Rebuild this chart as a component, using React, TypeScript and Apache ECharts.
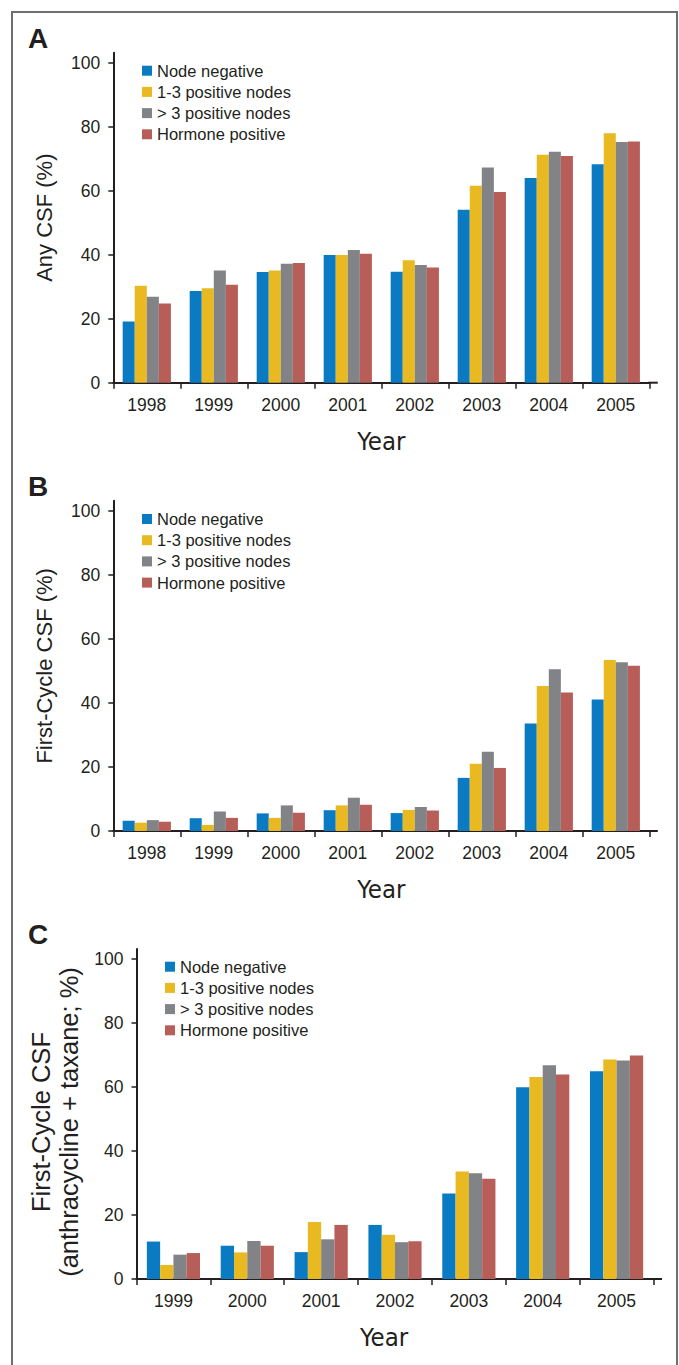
import React, { useEffect, useRef } from "react";
import * as echarts from "echarts";

const SERIES_NAMES = ["Node negative", "1-3 positive nodes", "> 3 positive nodes", "Hormone positive"];
const COLORS = ["#0a7bc2", "#e9b921", "#828387", "#b85e59"];

const YEARS_AB = ["1998", "1999", "2000", "2001", "2002", "2003", "2004", "2005"];
const YEARS_C = ["1999", "2000", "2001", "2002", "2003", "2004", "2005"];
const Y_TICKS = [0, 20, 40, 60, 80, 100];

// Panel A: Any CSF (%)
const A_NODE_NEG = [19.1, 28.7, 34.6, 39.9, 34.7, 54.1, 64.0, 68.3];
const A_POS_1_3 = [30.3, 29.5, 35.1, 39.9, 38.3, 61.6, 71.3, 78.0];
const A_POS_GT3 = [26.9, 35.1, 37.2, 41.5, 36.8, 67.3, 72.2, 75.3];
const A_HORMONE = [24.8, 30.6, 37.4, 40.3, 36.0, 59.6, 70.9, 75.4];

// Panel B: First-Cycle CSF (%)
const B_NODE_NEG = [3.2, 4.0, 5.5, 6.5, 5.6, 16.6, 33.6, 41.1];
const B_POS_1_3 = [2.6, 1.9, 4.1, 8.0, 6.6, 21.0, 45.3, 53.4];
const B_POS_GT3 = [3.4, 6.1, 8.0, 10.4, 7.5, 24.8, 50.5, 52.7];
const B_HORMONE = [2.9, 4.1, 5.7, 8.2, 6.4, 19.7, 43.3, 51.6];

// Panel C: First-Cycle CSF (anthracycline + taxane; %)
const C_NODE_NEG = [11.7, 10.4, 8.4, 16.9, 26.7, 59.9, 64.9];
const C_POS_1_3 = [4.4, 8.3, 17.8, 13.8, 33.6, 63.1, 68.6];
const C_POS_GT3 = [7.6, 11.9, 12.4, 11.5, 33.0, 66.8, 68.3];
const C_HORMONE = [8.1, 10.4, 16.9, 11.8, 31.3, 63.9, 69.8];

const SANS = "'Liberation Sans', Arial, Helvetica, sans-serif";
const NARROW = "'DejaVu Sans Condensed', 'Liberation Sans Narrow', 'Liberation Sans', sans-serif";
const INK = "#231f20";

const PANELS = [
  {
    letter: "A",
    years: YEARS_AB,
    values: [A_NODE_NEG, A_POS_1_3, A_POS_GT3, A_HORMONE],
    yName: "Any CSF (%)",
    grid: { left: 113.3, top: 52.7, width: 536, height: 330 },
    yMax: 103.2,
    nameGap: 55,
    nameSize: 22,
    namePad: [0, 0, 0, 0],
    legend: { left: 142, top: 62.2 },
    letterPos: { x: 28, y: 38 },
    yearPad: 0,
  },
  {
    letter: "B",
    years: YEARS_AB,
    values: [B_NODE_NEG, B_POS_1_3, B_POS_GT3, B_HORMONE],
    yName: "First-Cycle CSF (%)",
    grid: { left: 113.3, top: 500.7, width: 536, height: 330.3 },
    yMax: 103.2,
    nameGap: 55,
    nameSize: 22,
    namePad: [0, 0, 0, 0],
    legend: { left: 142, top: 510.5 },
    letterPos: { x: 28, y: 486.5 },
    yearPad: 0,
  },
  {
    letter: "C",
    years: YEARS_C,
    values: [C_NODE_NEG, C_POS_1_3, C_POS_GT3, C_HORMONE],
    yName: "First-Cycle CSF\n(anthracycline + taxane; %)",
    grid: { left: 136.5, top: 949, width: 517, height: 330 },
    yMax: 103.1,
    nameGap: 52.5,
    nameSize: 25.5,
    namePad: [0, 16, 0, 0],
    legend: { left: 165, top: 958.2 },
    letterPos: { x: 28, y: 934 },
    yearPad: 22,
  },
];

export default function App() {
  const ref = useRef<HTMLDivElement>(null);

  useEffect(() => {
    if (!ref.current) return;
    const chart = echarts.init(ref.current, undefined, { renderer: "svg" });

    const grids: any[] = [];
    const xAxes: any[] = [];
    const yAxes: any[] = [];
    const legends: any[] = [];
    const series: any[] = [];
    const graphics: any[] = [
      {
        type: "rect",
        shape: { x: 12, y: 12, width: 665, height: 1380 },
        style: { fill: "none", stroke: "#6d6e70", lineWidth: 2 },
        silent: true,
      },
    ];

    PANELS.forEach((p, pi) => {
      grids.push({ ...p.grid, containLabel: false });
      xAxes.push({
        type: "category",
        gridIndex: pi,
        data: p.years,
        axisLine: { show: true, lineStyle: { color: INK, width: 2 } },
        axisTick: { show: true, length: 6, alignWithLabel: false, lineStyle: { color: INK, width: 1.5 } },
        axisLabel: { color: INK, fontFamily: SANS, fontSize: 17.5, margin: 13 },
        name: "Year",
        nameLocation: "middle",
        nameGap: 45,
        nameTextStyle: { color: INK, fontFamily: NARROW, fontSize: 25.5, padding: [0, p.yearPad, 0, 0] },
        splitLine: { show: false },
      });
      yAxes.push({
        type: "value",
        gridIndex: pi,
        min: 0,
        max: p.yMax,
        axisLine: { show: true, lineStyle: { color: INK, width: 2 } },
        axisTick: { show: true, length: 5, customValues: Y_TICKS, lineStyle: { color: INK, width: 1.5 } },
        axisLabel: { color: INK, fontFamily: SANS, fontSize: 17.5, margin: 13, customValues: Y_TICKS },
        splitLine: { show: false },
        name: p.yName,
        nameLocation: "middle",
        nameGap: p.nameGap,
        nameRotate: 90,
        nameTextStyle: {
          color: INK,
          fontFamily: SANS,
          fontSize: p.nameSize,
          lineHeight: 28.5,
          padding: p.namePad,
        },
      });
      legends.push({
        orient: "vertical",
        left: p.legend.left,
        top: p.legend.top,
        data: SERIES_NAMES,
        icon: "rect",
        itemWidth: 10,
        itemHeight: 10,
        itemGap: 4.2,
        padding: 0,
        textStyle: { color: INK, fontFamily: SANS, fontSize: 16.5, lineHeight: 17 },
        selectedMode: false,
      });
      p.values.forEach((vals, si) => {
        series.push({
          type: "bar",
          name: SERIES_NAMES[si],
          xAxisIndex: pi,
          yAxisIndex: pi,
          data: vals,
          barGap: "0%",
          barCategoryGap: "28%",
          itemStyle: { color: COLORS[si] },
          emphasis: { disabled: true },
        });
      });
      graphics.push({
        type: "text",
        x: p.letterPos.x,
        y: p.letterPos.y,
        style: {
          text: p.letter,
          fill: INK,
          font: `bold 28px ${SANS}`,
          verticalAlign: "middle",
        },
        silent: true,
      });
      const gx = p.grid.left + p.grid.width;
      const gy = p.grid.top + p.grid.height;
      graphics.push({
        type: "line",
        shape: { x1: gx - 1, y1: gy, x2: gx + 8.5, y2: gy },
        style: { stroke: INK, lineWidth: 2 },
        silent: true,
      });
    });

    chart.setOption({
      animation: false,
      backgroundColor: "#ffffff",
      color: COLORS,
      grid: grids,
      xAxis: xAxes,
      yAxis: yAxes,
      legend: legends,
      series,
      graphic: graphics,
    });

    return () => chart.dispose();
  }, []);

  return (
    <div
      ref={ref}
      style={{ position: "absolute", left: 0, top: 0, width: 679, height: 1365 }}
    />
  );
}
